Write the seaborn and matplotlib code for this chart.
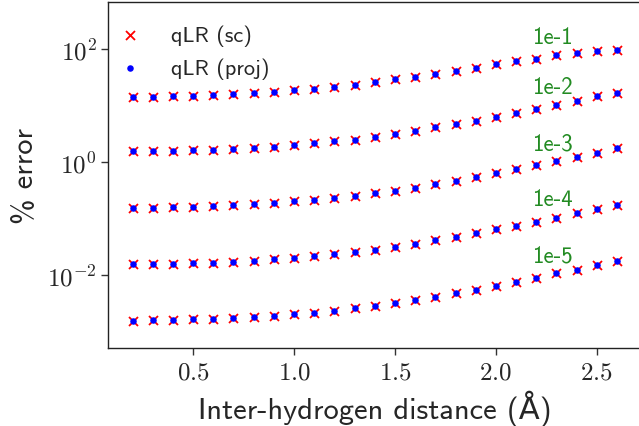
import numpy as np
import pandas as pd
import matplotlib
matplotlib.use("Agg")
import matplotlib.pyplot as plt
import seaborn as sns
from matplotlib.ticker import FixedLocator, FuncFormatter, NullLocator

# ---- data ----
distance = [0.2, 0.3, 0.4, 0.5, 0.6, 0.7, 0.8, 0.9, 1.0, 1.1, 1.2, 1.3, 1.4,
            1.5, 1.6, 1.7, 1.8, 1.9, 2.0, 2.1, 2.2, 2.3, 2.4, 2.5, 2.6]

err_1e1 = [14.3, 14.5, 14.7, 15.1, 15.5, 15.9, 16.8, 17.7, 19.0, 20.0, 21.5, 23.3, 26.1,
           29.4, 32.3, 37.0, 41.9, 46.7, 54.2, 61.2, 68.4, 78.3, 86.3, 93.5, 98.9]
err_1e2 = [1.55, 1.57, 1.59, 1.61, 1.66, 1.70, 1.77, 1.87, 2.00, 2.14, 2.33, 2.49, 2.78,
           3.18, 3.55, 4.19, 4.79, 5.42, 6.38, 7.50, 8.73, 10.4, 12.3, 14.7, 16.8]
err_1e3 = [0.154, 0.156, 0.158, 0.163, 0.167, 0.172, 0.179, 0.192, 0.206, 0.217, 0.232, 0.255, 0.285,
           0.313, 0.354, 0.406, 0.472, 0.541, 0.637, 0.750, 0.883, 1.04, 1.22, 1.48, 1.77]
err_1e4 = [0.0156, 0.0156, 0.0158, 0.0161, 0.0165, 0.0172, 0.0179, 0.0189, 0.0200, 0.0216, 0.0232, 0.0251, 0.0277,
           0.0317, 0.0354, 0.0411, 0.0478, 0.0547, 0.0644, 0.0748, 0.0871, 0.104, 0.124, 0.148, 0.175]
err_1e5 = [0.00154, 0.00156, 0.00158, 0.00163, 0.00165, 0.00169, 0.00176, 0.00186, 0.00200, 0.00213, 0.00232, 0.00255, 0.00282,
           0.00317, 0.00358, 0.00406, 0.00471, 0.00547, 0.00627, 0.00748, 0.00881, 0.0107, 0.0124, 0.0148, 0.0177]

thresholds = ["1e-1", "1e-2", "1e-3", "1e-4", "1e-5"]
series = [err_1e1, err_1e2, err_1e3, err_1e4, err_1e5]

x_ticks = [0.5, 1.0, 1.5, 2.0, 2.5]
y_ticks = [1e-2, 1e0, 1e2]

# ---- long-form table ----
rows = []
for thr, vals in zip(thresholds, series):
    for d, v in zip(distance, vals):
        rows.append({"distance": d, "error": v, "threshold": thr})
df = pd.DataFrame(rows)

sns.set_style("ticks")
plt.rcParams["mathtext.fontset"] = "cm"
plt.rcParams["font.family"] = ["cmss10", "DejaVu Sans"]
plt.rcParams["axes.unicode_minus"] = False

fig = plt.figure(figsize=(6.39, 4.27), dpi=100)
ax = fig.add_axes([0.1695, 0.182, 0.834, 0.8117])

sns.scatterplot(data=df, x="distance", y="error", marker="x", color="red",
                s=42, linewidth=1.3, label="qLR (sc)", ax=ax, zorder=2)
sns.scatterplot(data=df, x="distance", y="error", marker="o", color="blue",
                s=22, linewidth=0, label="qLR (proj)", ax=ax, zorder=3)

ax.set_yscale("log")
ax.set_ylim(5e-4, 7e2)
ax.set_xlim(0.08, 2.72)

ax.xaxis.set_major_locator(FixedLocator(x_ticks))
ax.xaxis.set_major_formatter(FuncFormatter(lambda v, p: r"$%.1f$" % v))
ax.yaxis.set_major_locator(FixedLocator(y_ticks))
ax.yaxis.set_major_formatter(FuncFormatter(lambda v, p: r"$10^{%d}$" % int(round(np.log10(v)))))
ax.yaxis.set_minor_locator(NullLocator())
ax.xaxis.set_minor_locator(NullLocator())
ax.tick_params(axis="both", labelsize=18, length=5, width=1, color="#333333")

for sp in ax.spines.values():
    sp.set_color("#222222")
    sp.set_linewidth(1.0)

ax.set_xlabel("Inter-hydrogen distance (Å)", fontsize=22, labelpad=5)
ax.set_ylabel("% error", fontsize=22, labelpad=6)

for thr, vals in zip(thresholds, series):
    ax.text(distance[21] - 0.02, vals[21] * 2.1, thr, color="forestgreen",
            fontsize=16.5, ha="center", va="center")

leg = ax.legend(loc="upper left", frameon=False, fontsize=16, handlelength=1.0,
                handletextpad=1.35, borderaxespad=0.3, borderpad=0.5,
                labelspacing=0.5, bbox_to_anchor=(-0.013, 0.985))

fig.savefig("out.png", dpi=100)
